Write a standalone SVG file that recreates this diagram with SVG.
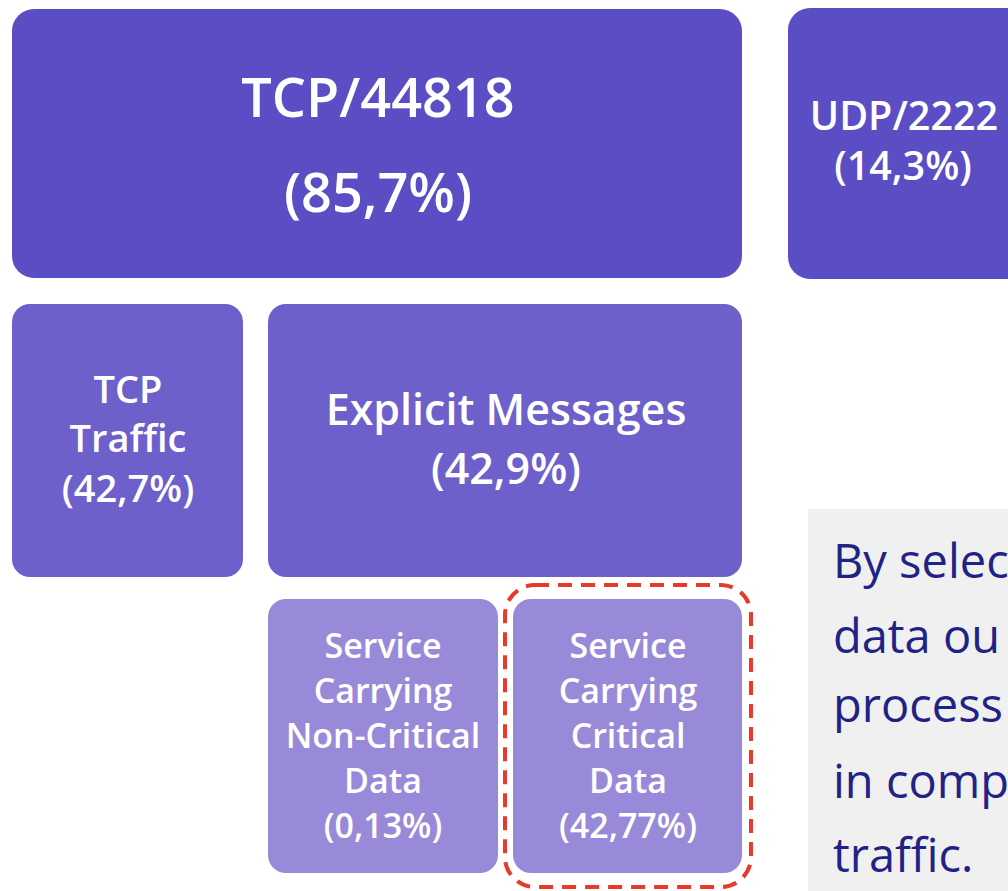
<svg xmlns="http://www.w3.org/2000/svg" width="1008" height="891" viewBox="0 0 1008 891">
<style>
.t{font-family:"Open Sans","Noto Sans",sans-serif;font-weight:600;fill:#ffffff;text-anchor:middle}
.s{font-size:34px}
.note{font-family:"Open Sans","Noto Sans",sans-serif;font-size:47px;fill:#1f2385}
</style>
<rect width="1008" height="891" fill="#ffffff"/>
<g id="tcp44818">
<rect x="12" y="9" width="730" height="269" rx="22" fill="#5b4ec4"/>
<text class="t" x="378" y="117" font-size="54">TCP/44818</text>
<text class="t" x="378" y="212" font-size="54">(85,7%)</text>
</g>
<g id="udp2222">
<rect x="788" y="8" width="250" height="271" rx="22" fill="#5b4ec4"/>
<text class="t" x="904" y="130" font-size="39.5">UDP/2222</text>
<text class="t" x="903" y="180" font-size="39.5">(14,3%)</text>
</g>
<g id="tcptraffic">
<rect x="12" y="304" width="231" height="273" rx="18" fill="#6e60cb"/>
<text class="t" x="128" y="403" font-size="38">TCP</text>
<text class="t" x="128" y="452" font-size="38">Traffic</text>
<text class="t" x="128" y="502" font-size="38">(42,7%)</text>
</g>
<g id="explicit">
<rect x="268" y="304" width="474" height="273" rx="18" fill="#6e60cb"/>
<text class="t" x="506" y="425" font-size="43">Explicit Messages</text>
<text class="t" x="506" y="484" font-size="43">(42,9%)</text>
</g>
<g id="noncritical">
<rect x="268" y="599" width="230" height="274" rx="18" fill="#988ad9"/>
<text class="t s" x="383" y="658">Service</text>
<text class="t s" x="383" y="703">Carrying</text>
<text class="t s" x="383" y="748">Non-Critical</text>
<text class="t s" x="383" y="793">Data</text>
<text class="t s" x="383" y="838">(0,13%)</text>
</g>
<g id="critical">
<rect x="513" y="599" width="229" height="274" rx="18" fill="#988ad9"/>
<text class="t s" x="628" y="658">Service</text>
<text class="t s" x="628" y="703">Carrying</text>
<text class="t s" x="628" y="748">Critical</text>
<text class="t s" x="628" y="793">Data</text>
<text class="t s" x="628" y="838">(42,77%)</text>
<rect x="505" y="585" width="246" height="302" rx="30" fill="none" stroke="#e8392b" stroke-width="4" stroke-dasharray="14 9"/>
</g>
<g id="connectors"></g>
<g id="note">
<rect x="808" y="509" width="220" height="400" fill="#f0f0f0"/>
<text class="note" x="833" y="578">By selec</text>
<text class="note" x="833" y="653">data ou</text>
<text class="note" x="833" y="722">process</text>
<text class="note" x="833" y="798">in comp</text>
<text class="note" x="833" y="872">traffic.</text>
</g>
</svg>
